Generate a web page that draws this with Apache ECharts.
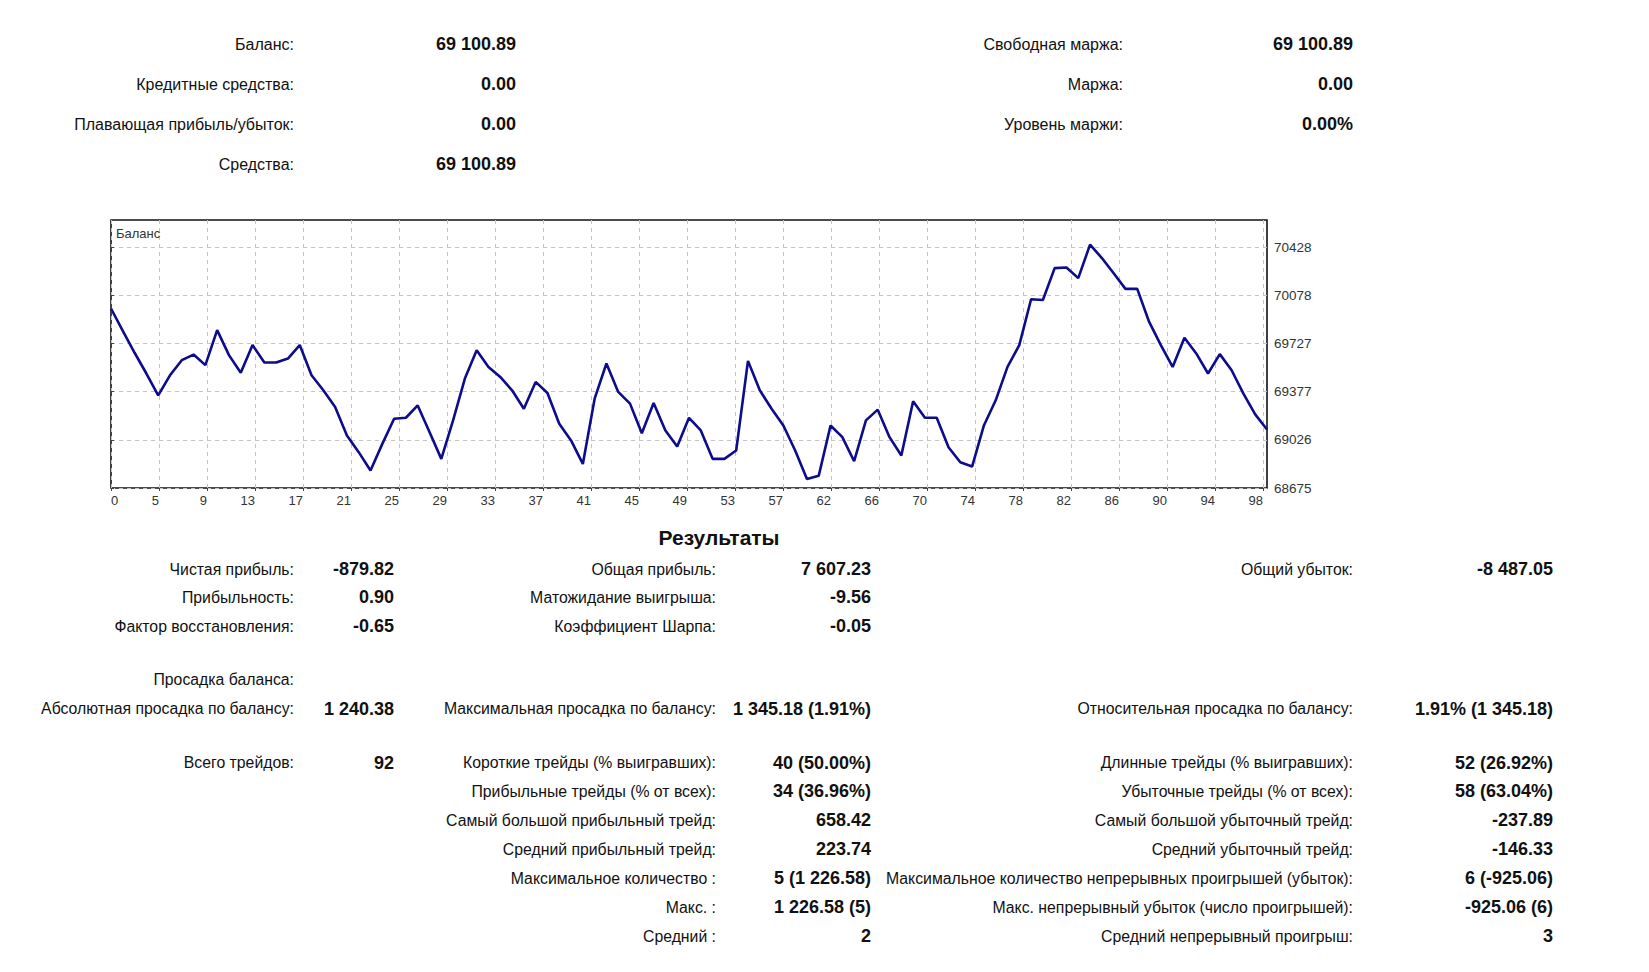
<!DOCTYPE html>
<html>
<head>
<meta charset="utf-8">
<script src="https://cdn.jsdelivr.net/npm/echarts@6/dist/echarts.min.js"></script>
<style>
html,body{margin:0;padding:0;background:#fff;}
#chart{width:1649px;height:972px;}
</style>
</head>
<body>
<div id="chart"></div>
<script>
// ---------- data ----------
const balance = [
  69981, 69819, 69659, 69508, 69349, 69495, 69605, 69646, 69569, 69824,
  69642, 69513, 69715, 69588, 69588, 69617, 69715, 69495, 69386, 69264,
  69057, 68936, 68802, 68996, 69179, 69186, 69276, 69082, 68887, 69167,
  69471, 69678, 69556, 69483, 69386, 69252, 69447, 69366, 69142, 69021,
  68850, 69325, 69581, 69374, 69289, 69074, 69293, 69094, 68977, 69186,
  69094, 68887, 68887, 68948, 69600, 69386, 69252, 69130, 68948, 68740,
  68765, 69130, 69045, 68870, 69167, 69245, 69045, 68911, 69306, 69186,
  69186, 68972, 68862, 68831, 69130, 69313, 69556, 69715, 70048, 70043,
  70275, 70279, 70202, 70446, 70348, 70238, 70124, 70124, 69885, 69715,
  69556, 69768, 69654, 69508, 69649, 69532, 69362, 69211, 69101
];
const xTickLabels = ['0','5','9','13','17','21','25','29','33','37','41','45','49','53','57','62','66','70','74','78','82','86','90','94','98'];
const yTickValues = [68675, 69026, 69377, 69727, 70078, 70428];
const seriesName = 'Баланс';

const topLeftLabels = ['Баланс:', 'Кредитные средства:', 'Плавающая прибыль/убыток:', 'Средства:'];
const topLeftValues = ['69 100.89', '0.00', '0.00', '69 100.89'];
const topRightLabels = ['Свободная маржа:', 'Маржа:', 'Уровень маржи:', ''];
const topRightValues = ['69 100.89', '0.00', '0.00%', ''];

const resultsTitle = 'Результаты';
const col1Labels = ['Чистая прибыль:', 'Прибыльность:', 'Фактор восстановления:', 'Просадка баланса:', 'Абсолютная просадка по балансу:', 'Всего трейдов:', '', '', '', '', '', ''];
const col1Values = ['-879.82', '0.90', '-0.65', '', '1 240.38', '92', '', '', '', '', '', ''];
const col2Labels = ['Общая прибыль:', 'Матожидание выигрыша:', 'Коэффициент Шарпа:', '', 'Максимальная просадка по балансу:', 'Короткие трейды (% выигравших):', 'Прибыльные трейды (% от всех):', 'Самый большой прибыльный трейд:', 'Средний прибыльный трейд:', 'Максимальное количество :', 'Макс. :', 'Средний :'];
const col2Values = ['7 607.23', '-9.56', '-0.05', '', '1 345.18 (1.91%)', '40 (50.00%)', '34 (36.96%)', '658.42', '223.74', '5 (1 226.58)', '1 226.58 (5)', '2'];
const col3Labels = ['Общий убыток:', '', '', '', 'Относительная просадка по балансу:', 'Длинные трейды (% выигравших):', 'Убыточные трейды (% от всех):', 'Самый большой убыточный трейд:', 'Средний убыточный трейд:', 'Максимальное количество непрерывных проигрышей (убыток):', 'Макс. непрерывный убыток (число проигрышей):', 'Средний непрерывный проигрыш:'];
const col3Values = ['-8 487.05', '', '', '', '1.91% (1 345.18)', '52 (26.92%)', '58 (63.04%)', '-237.89', '-146.33', '6 (-925.06)', '-925.06 (6)', '3'];

// ---------- layout ----------
const FONT = '"Liberation Sans", Arial, sans-serif';
const gridLeft = 111, gridTop = 220, gridRight = 1267, gridBottom = 488;
const xMax = balance.length - 1;
const xStep = xMax * (1263 - gridLeft) / (gridRight - gridLeft) / (xTickLabels.length - 1);
const xTickPos = xTickLabels.map((_, k) => k * xStep);

const topRowsY = [44, 84, 124, 164];
const botRowsY = [569, 597, 626, 679, 708.5, 762.5, 791, 820, 849, 878, 907, 936];

function txt(x, y, text, align, bold, size) {
  return {
    type: 'text', x: x, y: y, silent: true,
    style: {
      text: text, fill: '#111',
      fontSize: size, fontFamily: FONT, fontWeight: bold ? 'bold' : 'normal',
      align: align, verticalAlign: 'middle',
      textAlign: align, textVerticalAlign: 'middle'
    }
  };
}

const graphics = [];
topLeftLabels.forEach((t, i) => { if (t) graphics.push(txt(294, topRowsY[i], t, 'right', false, 16)); });
topLeftValues.forEach((t, i) => { if (t) graphics.push(txt(516, topRowsY[i], t, 'right', true, 18)); });
topRightLabels.forEach((t, i) => { if (t) graphics.push(txt(1123, topRowsY[i], t, 'right', false, 16)); });
topRightValues.forEach((t, i) => { if (t) graphics.push(txt(1353, topRowsY[i], t, 'right', true, 18)); });
graphics.push(txt(719, 537, resultsTitle, 'center', true, 21));
const cols = [
  [col1Labels, 294, col1Values, 394],
  [col2Labels, 716, col2Values, 871],
  [col3Labels, 1353, col3Values, 1553]
];
cols.forEach(([labs, lx, vals, vx]) => {
  labs.forEach((t, i) => { if (t) graphics.push(txt(lx, botRowsY[i], t, 'right', false, 15.8)); });
  vals.forEach((t, i) => { if (t) graphics.push(txt(vx, botRowsY[i], t, 'right', true, 18)); });
});
graphics.push({
  type: 'text', x: 116, y: 233, silent: true, z: 100,
  style: { text: seriesName, fill: '#333', fontSize: 13, fontFamily: FONT,
           align: 'left', verticalAlign: 'middle', textAlign: 'left', textVerticalAlign: 'middle' }
});

const chart = echarts.init(document.getElementById('chart'), null, { renderer: 'svg' });
chart.setOption({
  animation: false,
  backgroundColor: '#ffffff',
  grid: {
    left: gridLeft, top: gridTop, right: 1649 - gridRight, bottom: 972 - gridBottom,
    show: true, borderColor: '#111', borderWidth: 1.6, backgroundColor: '#ffffff'
  },
  xAxis: {
    type: 'value', min: 0, max: xMax,
    axisLine: { show: false },
    axisTick: { show: true, customValues: xTickPos, length: 3, lineStyle: { color: '#444' } },
    axisLabel: {
      customValues: xTickPos, margin: 6, color: '#333', fontSize: 13, fontFamily: FONT,
      align: 'right', alignMinLabel: 'left', alignMaxLabel: 'right',
      formatter: v => xTickLabels[Math.round(v / xStep)]
    },
    splitLine: { show: true, lineStyle: { color: '#c4c4c4', width: 1, type: [4, 4] } }
  },
  yAxis: {
    type: 'value', position: 'right', min: 68675, max: 70625, scale: true,
    axisLine: { show: false },
    axisTick: { show: true, customValues: yTickValues, length: 3, lineStyle: { color: '#444' } },
    axisLabel: { customValues: yTickValues, margin: 7, color: '#333', fontSize: 13.5, fontFamily: FONT,
                 formatter: v => String(v) },
    splitLine: { show: true, lineStyle: { color: '#c4c4c4', width: 1, type: [4, 4] } }
  },
  series: [{
    name: seriesName, type: 'line',
    data: balance.map((v, i) => [i, v]),
    showSymbol: false, symbol: 'none',
    lineStyle: { color: '#0c0c8c', width: 2.6 },
    z: 5
  }],
  graphic: graphics
});
</script>
</body>
</html>
